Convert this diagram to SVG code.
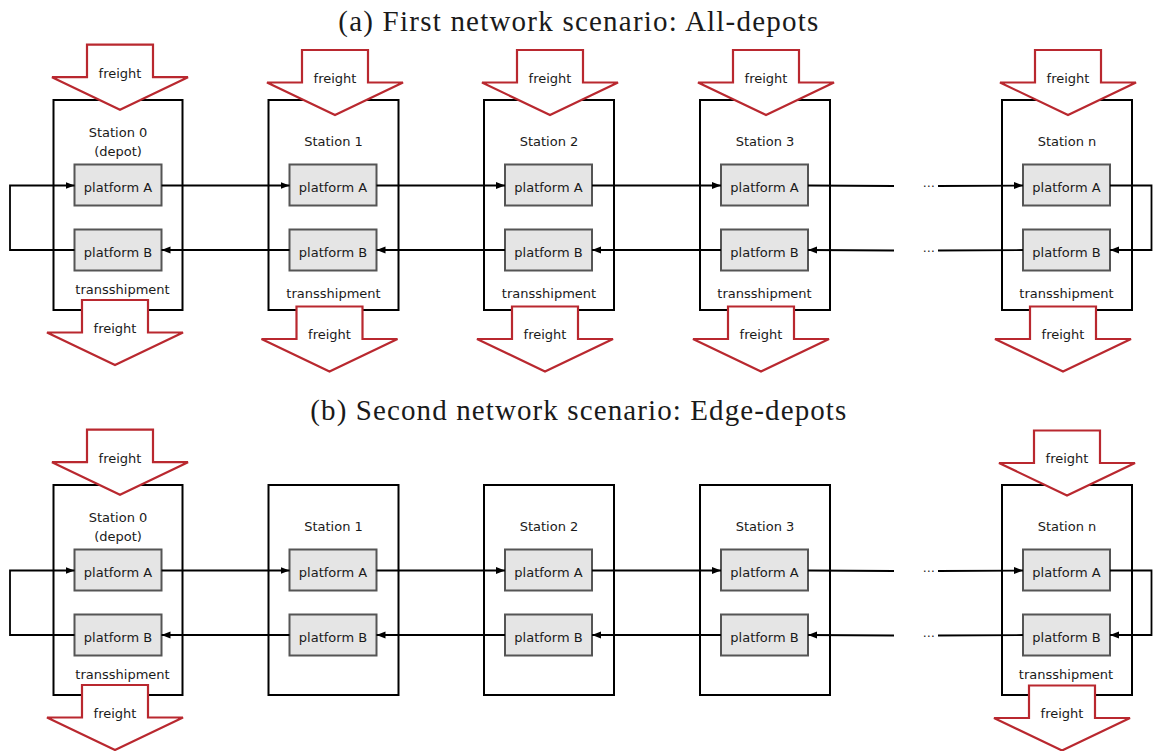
<svg xmlns="http://www.w3.org/2000/svg" xmlns:xlink="http://www.w3.org/1999/xlink" width="1153" height="751" viewBox="0 0 1153 751">
<style>
.title{font-family:"Liberation Serif","Times New Roman",serif;font-size:29px;fill:#1a1a1a;text-anchor:middle}
.t{font-family:"DejaVu Sans","Liberation Sans",sans-serif;font-size:13px;fill:#1a1a1a;text-anchor:middle}
.dots{font-family:"DejaVu Sans",sans-serif;font-size:12px;fill:#1a1a1a;text-anchor:middle}
.st{fill:#fff;stroke:#000;stroke-width:2}
.pf{fill:#e5e5e5;stroke:#555;stroke-width:2}
.fr{fill:#fff;stroke:#b9282f;stroke-width:2.2;stroke-linejoin:miter}
.cn{fill:none;stroke:#000;stroke-width:1.8}
</style>
<defs>
<path id="dn" d="M-33,0 H33 V32.5 H68 L0,65 L-68,32.5 H-33 Z"/>
<marker id="ah" markerUnits="userSpaceOnUse" markerWidth="10" markerHeight="8" refX="9" refY="3.5" orient="auto">
<path d="M0,0 L9,3.5 L0,7 Z" fill="#000"/>
</marker>
</defs>
<rect width="1153" height="751" fill="#fff"/>
<text class="title" x="578.3" y="30.5" textLength="480" lengthAdjust="spacing">(a) First network scenario: All-depots</text>
<text class="title" x="578.3" y="419.5" textLength="536" lengthAdjust="spacing">(b) Second network scenario: Edge-depots</text>

<g id="scenario-a">
<g id="a-station0">
<rect class="st" x="53.5" y="100" width="129" height="210"/>
<text class="t" x="118" y="137.4">Station 0</text>
<text class="t" x="118" y="155.5">(depot)</text>
<rect class="pf" x="74.5" y="164.5" width="87" height="41"/>
<text class="t" x="118" y="192">platform A</text>
<rect class="pf" x="74.5" y="229.5" width="87" height="41"/>
<text class="t" x="118" y="257">platform B</text>
<text class="t" x="122.5" y="293.7">transshipment</text>
<use xlink:href="#dn" class="fr" x="120" y="44.7"/>
<text class="t" x="120" y="77.5">freight</text>
<use xlink:href="#dn" class="fr" x="115" y="300"/>
<text class="t" x="115" y="332.5">freight</text>
</g>
<g id="a-station1">
<rect class="st" x="268.5" y="100" width="130" height="210"/>
<text class="t" x="333.5" y="145.7">Station 1</text>
<rect class="pf" x="289.5" y="164.5" width="87" height="41"/>
<text class="t" x="333" y="192">platform A</text>
<rect class="pf" x="289.5" y="229.5" width="87" height="41"/>
<text class="t" x="333" y="257">platform B</text>
<text class="t" x="333.5" y="297.7">transshipment</text>
<use xlink:href="#dn" class="fr" x="335" y="50"/>
<text class="t" x="335" y="83">freight</text>
<use xlink:href="#dn" class="fr" x="329.5" y="306.5"/>
<text class="t" x="329.5" y="339">freight</text>
</g>
<g id="a-station2">
<rect class="st" x="484" y="100" width="130" height="210"/>
<text class="t" x="549" y="145.7">Station 2</text>
<rect class="pf" x="505" y="164.5" width="87" height="41"/>
<text class="t" x="548.5" y="192">platform A</text>
<rect class="pf" x="505" y="229.5" width="87" height="41"/>
<text class="t" x="548.5" y="257">platform B</text>
<text class="t" x="549" y="297.7">transshipment</text>
<use xlink:href="#dn" class="fr" x="550" y="50"/>
<text class="t" x="550" y="83">freight</text>
<use xlink:href="#dn" class="fr" x="545" y="306.5"/>
<text class="t" x="545" y="339">freight</text>
</g>
<g id="a-station3">
<rect class="st" x="700" y="100" width="130" height="210"/>
<text class="t" x="765" y="145.7">Station 3</text>
<rect class="pf" x="721" y="164.5" width="87" height="41"/>
<text class="t" x="764.5" y="192">platform A</text>
<rect class="pf" x="721" y="229.5" width="87" height="41"/>
<text class="t" x="764.5" y="257">platform B</text>
<text class="t" x="764.5" y="297.7">transshipment</text>
<use xlink:href="#dn" class="fr" x="766" y="50"/>
<text class="t" x="766" y="83">freight</text>
<use xlink:href="#dn" class="fr" x="761" y="306.5"/>
<text class="t" x="761" y="339">freight</text>
</g>
<g id="a-stationn">
<rect class="st" x="1002" y="100" width="130" height="210"/>
<text class="t" x="1067" y="145.7">Station n</text>
<rect class="pf" x="1023" y="164.5" width="87" height="41"/>
<text class="t" x="1066.5" y="192">platform A</text>
<rect class="pf" x="1023" y="229.5" width="87" height="41"/>
<text class="t" x="1066.5" y="257">platform B</text>
<text class="t" x="1066.5" y="297.7">transshipment</text>
<use xlink:href="#dn" class="fr" x="1068" y="50"/>
<text class="t" x="1068" y="83">freight</text>
<use xlink:href="#dn" class="fr" x="1063" y="306.5"/>
<text class="t" x="1063" y="339">freight</text>
</g>
<g id="a-connectors">
<path class="cn" d="M74.5,250 H10 V185.5 H74.5" marker-end="url(#ah)"/>
<path class="cn" d="M161.5,185.5 H289.5" marker-end="url(#ah)"/>
<path class="cn" d="M376.5,185.5 H505" marker-end="url(#ah)"/>
<path class="cn" d="M592,185.5 H721" marker-end="url(#ah)"/>
<path class="cn" d="M808,185.5 L894,186"/>
<path class="cn" d="M938,186 L1023,185.5" marker-end="url(#ah)"/>
<path class="cn" d="M1110,185.5 H1151.5 V250 H1110" marker-end="url(#ah)"/>
<path class="cn" d="M1023,250 L938,250.5"/>
<path class="cn" d="M894,250.5 L808,250" marker-end="url(#ah)"/>
<path class="cn" d="M721,250 H592" marker-end="url(#ah)"/>
<path class="cn" d="M505,250 H376.5" marker-end="url(#ah)"/>
<path class="cn" d="M289.5,250 H161.5" marker-end="url(#ah)"/>
<text class="dots" x="928.5" y="190">⋯</text>
<text class="dots" x="928.5" y="254.5">⋯</text>
</g>
</g>

<g id="scenario-b" transform="translate(0,385)">
<g id="b-station0">
<rect class="st" x="53.5" y="100" width="129" height="210"/>
<text class="t" x="118" y="137.4">Station 0</text>
<text class="t" x="118" y="155.5">(depot)</text>
<rect class="pf" x="74.5" y="164.5" width="87" height="41"/>
<text class="t" x="118" y="192">platform A</text>
<rect class="pf" x="74.5" y="229.5" width="87" height="41"/>
<text class="t" x="118" y="257">platform B</text>
<text class="t" x="122.5" y="293.7">transshipment</text>
<use xlink:href="#dn" class="fr" x="120" y="44.7"/>
<text class="t" x="120" y="77.5">freight</text>
<use xlink:href="#dn" class="fr" x="115" y="300"/>
<text class="t" x="115" y="332.5">freight</text>
</g>
<g id="b-station1">
<rect class="st" x="268.5" y="100" width="130" height="210"/>
<text class="t" x="333.5" y="145.7">Station 1</text>
<rect class="pf" x="289.5" y="164.5" width="87" height="41"/>
<text class="t" x="333" y="192">platform A</text>
<rect class="pf" x="289.5" y="229.5" width="87" height="41"/>
<text class="t" x="333" y="257">platform B</text>
</g>
<g id="b-station2">
<rect class="st" x="484" y="100" width="130" height="210"/>
<text class="t" x="549" y="145.7">Station 2</text>
<rect class="pf" x="505" y="164.5" width="87" height="41"/>
<text class="t" x="548.5" y="192">platform A</text>
<rect class="pf" x="505" y="229.5" width="87" height="41"/>
<text class="t" x="548.5" y="257">platform B</text>
</g>
<g id="b-station3">
<rect class="st" x="700" y="100" width="130" height="210"/>
<text class="t" x="765" y="145.7">Station 3</text>
<rect class="pf" x="721" y="164.5" width="87" height="41"/>
<text class="t" x="764.5" y="192">platform A</text>
<rect class="pf" x="721" y="229.5" width="87" height="41"/>
<text class="t" x="764.5" y="257">platform B</text>
</g>
<g id="b-stationn">
<rect class="st" x="1002" y="100" width="130" height="210"/>
<text class="t" x="1067" y="145.7">Station n</text>
<rect class="pf" x="1023" y="164.5" width="87" height="41"/>
<text class="t" x="1066.5" y="192">platform A</text>
<rect class="pf" x="1023" y="229.5" width="87" height="41"/>
<text class="t" x="1066.5" y="257">platform B</text>
<text class="t" x="1066" y="293.7">transshipment</text>
<use xlink:href="#dn" class="fr" x="1067" y="45.5"/>
<text class="t" x="1067" y="78">freight</text>
<use xlink:href="#dn" class="fr" x="1062" y="300.5"/>
<text class="t" x="1062" y="333">freight</text>
</g>
<g id="b-connectors">
<path class="cn" d="M74.5,250 H10 V185.5 H74.5" marker-end="url(#ah)"/>
<path class="cn" d="M161.5,185.5 H289.5" marker-end="url(#ah)"/>
<path class="cn" d="M376.5,185.5 H505" marker-end="url(#ah)"/>
<path class="cn" d="M592,185.5 H721" marker-end="url(#ah)"/>
<path class="cn" d="M808,185.5 L894,186"/>
<path class="cn" d="M938,186 L1023,185.5" marker-end="url(#ah)"/>
<path class="cn" d="M1110,185.5 H1151.5 V250 H1110" marker-end="url(#ah)"/>
<path class="cn" d="M1023,250 L938,250.5"/>
<path class="cn" d="M894,250.5 L808,250" marker-end="url(#ah)"/>
<path class="cn" d="M721,250 H592" marker-end="url(#ah)"/>
<path class="cn" d="M505,250 H376.5" marker-end="url(#ah)"/>
<path class="cn" d="M289.5,250 H161.5" marker-end="url(#ah)"/>
<text class="dots" x="928.5" y="190">⋯</text>
<text class="dots" x="928.5" y="254.5">⋯</text>
</g>
</g>
</svg>
